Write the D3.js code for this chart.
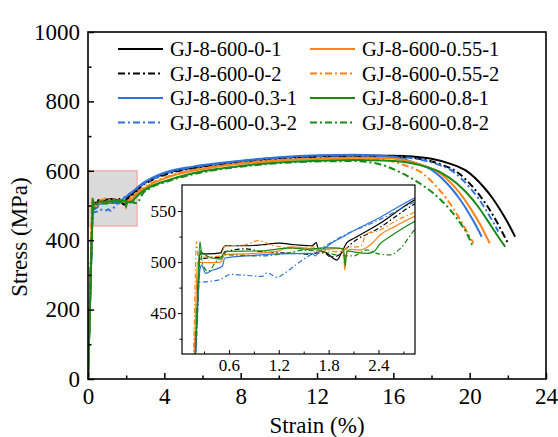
<!DOCTYPE html>
<html>
<head>
<meta charset="utf-8">
<script src="https://cdn.jsdelivr.net/npm/d3@7"></script>
<style>
  body { margin: 0; background: #fff; }
</style>
</head>
<body>
<div id="chart"></div>
<script>
// series names (legend order)
var seriesNames = ["GJ-8-600-0-1", "GJ-8-600-0-2", "GJ-8-600-0.3-1", "GJ-8-600-0.3-2",
                   "GJ-8-600-0.55-1", "GJ-8-600-0.55-2", "GJ-8-600-0.8-1", "GJ-8-600-0.8-2"];

// [strain %, stress MPa]
var gj0_1 = [[0,0],[0.22,455],[0.25,508],[0.35,508],[0.5,509],[0.53,514],[0.56,516],[0.8,516],[1.0,517],[1.2,518.5],[1.4,517],[1.6,516],[1.65,519],[1.68,512],[1.78,509],[1.85,504],[1.9,502],[1.96,510],[2.02,519],[2.1,523],[2.4,537],[2.84,561],[3.2,572],[4.2,595],[5.5,609],[7,621],[8.5,630],[10,637],[12,642],[14,644],[16,643.5],[17,641],[18,635],[19,620],[19.85,599],[20.72,554],[21.2,521],[21.55,492],[22.0,450],[22.38,410]];
var gj0_2 = [[0,0],[0.22,460],[0.25,503],[0.35,504],[0.52,505],[0.56,510],[0.8,513],[1.0,510],[1.2,509],[1.4,508.5],[1.6,507.5],[1.66,509],[1.75,509],[1.82,505],[1.9,506],[2.0,512],[2.06,517],[2.4,533],[2.84,557],[3.2,569],[4.2,592],[5.5,607],[7,619],[8.5,628],[10,635],[12,640],[14,641.5],[15.5,641],[16.5,639],[17.45,634],[18.45,619],[19.3,598],[20.17,553],[20.65,520],[21.0,492],[21.45,450],[21.83,410],[22.02,390]];
var gj03_1 = [[0,0],[0.22,450],[0.25,492],[0.27,497],[0.32,489],[0.4,492],[0.52,496],[0.55,504],[0.8,506],[1.2,508],[1.6,508.5],[1.64,506],[1.68,510],[1.74,513],[1.86,520],[1.98,525],[2.02,527],[2.4,543],[2.84,563],[3.2,575],[4.2,598],[5.5,612],[7,623],[8.5,632],[10,639],[12,644.5],[14,646],[15.25,644],[16.25,637],[17.25,621],[18.1,599],[18.97,554],[19.45,521],[19.8,492],[20.25,450],[20.63,410]];
var gj03_2 = [[0,0],[0.22,440],[0.24,480],[0.35,481],[0.5,483],[0.56,486],[0.62,488],[0.8,487],[1.0,486],[1.06,489.5],[1.18,485],[1.25,488],[1.4,497],[1.54,505],[1.74,515],[1.98,526],[2.4,541],[2.84,559],[3.2,571],[4.2,595],[5.5,610],[7,621],[8.5,630],[10,637],[12,642.5],[14,644],[15.25,643],[16.25,640],[17.25,634],[18.25,620],[19.1,599],[19.97,554],[20.45,521],[20.8,492],[21.25,450],[21.5,425]];
var gj055_1 = [[0,0],[0.2,450],[0.22,500],[0.35,499.5],[0.5,500],[0.55,507.5],[0.8,508],[1.0,509],[1.2,511],[1.34,515],[1.5,514],[1.68,512],[1.94,513.4],[1.98,508],[1.995,492],[2.01,507],[2.06,512.5],[2.18,511.8],[2.3,516.7],[2.42,526.5],[2.6,535],[2.84,545],[3.2,558],[4.2,582],[5.5,600],[7,614],[8.5,623],[10,630],[12,635],[14,637.5],[15.5,637],[16.5,631],[17.5,617],[18.35,597],[19.22,553],[19.7,520],[20.05,491],[20.5,450],[20.88,410],[21.05,391]];
var gj055_2 = [[0,0],[0.18,430],[0.21,520],[0.23,505],[0.35,505],[0.5,506],[0.55,515.5],[0.8,517],[0.95,521],[1.1,517],[1.3,514],[1.5,513],[1.6,515],[1.74,512],[1.94,510],[2.06,515],[2.18,515],[2.26,528],[2.38,530],[2.6,540],[2.84,549],[3.2,561],[4.2,584],[5.5,602],[7,615],[8.5,625],[10,631],[12,635],[13.5,636.5],[14.6,636],[15.6,631],[16.6,616],[17.45,596],[18.3,552],[18.8,519],[19.15,491],[19.6,450],[20.0,410],[20.2,392]];
var gj08_1 = [[0,0],[0.22,460],[0.25,520],[0.27,510],[0.4,504],[0.5,503],[0.55,510.5],[1.0,511],[1.34,514],[1.54,512.5],[1.74,514],[1.86,514],[1.98,513],[2.0,496],[2.02,511],[2.1,510],[2.26,508.5],[2.34,510],[2.42,518],[2.54,525],[2.84,540],[3.2,552],[4.2,573],[5.5,593],[7,607],[8.5,617],[10,624],[12,629],[14,631],[15.5,630],[16.5,626],[17.5,615],[18.5,595],[19.3,565],[19.9,533],[20.4,500],[20.9,460],[21.4,418],[21.86,381]];
var gj08_2 = [[0,0],[0.23,470],[0.26,512],[0.28,499],[0.35,491],[0.45,501],[0.55,507],[1.0,506],[1.3,509],[1.5,511.5],[1.74,510],[1.9,507],[2.1,506],[2.26,512],[2.4,508],[2.54,507],[2.66,513],[2.84,532],[3.2,548],[4.2,570],[5.5,590],[7,605],[8.5,615],[10,622],[12,627],[14,628],[15.13,621],[16.35,596],[17.2,570],[18.1,535],[18.97,488],[19.5,450],[19.85,420],[20.15,383]];

var seriesData = [gj0_1, gj0_2, gj03_1, gj03_2, gj055_1, gj055_2, gj08_1, gj08_2];

// ticks
var xTicks = [0, 4, 8, 12, 16, 20, 24];
var xMinor = [2, 6, 10, 14, 18, 22];
var yTicks = [0, 200, 400, 600, 800, 1000];
var yMinor = [100, 300, 500, 700, 900];
var insetXTicks = [0.6, 1.2, 1.8, 2.4];
var insetXMinor = [0.3, 0.9, 1.5, 2.1, 2.7];
var insetYTicks = [450, 500, 550];
var insetYMinor = [425, 475, 525];

// zoomed region marked on the main plot
var boxStrain = [0, 2.57];
var boxStress = [441, 600];

// styles
var colors = ["#000000", "#000000", "#2e74dc", "#2e74dc", "#ff8418", "#ff8418", "#178a17", "#178a17"];
var dashed = [false, true, false, true, false, true, false, true];
var fontName = "Liberation Serif";

var width = 558, height = 437;
var plot = {left: 88, right: 546, top: 32, bottom: 379};
var inset = {left: 182, right: 415, top: 185, bottom: 354};

var svg = d3.select("#chart")
  .append("svg")
  .attr("width", width)
  .attr("height", height);

var x = d3.scaleLinear().domain([0, 24]).range([plot.left, plot.right]);
var y = d3.scaleLinear().domain([0, 1000]).range([plot.bottom, plot.top]);

var ix = d3.scaleLinear().domain([0.035, 2.84]).range([inset.left, inset.right]);
var iy = d3.scaleLinear().domain([410, 575.5]).range([inset.bottom, inset.top]);

var defs = svg.append("defs");
defs.append("clipPath").attr("id", "clipMain").append("rect")
  .attr("x", plot.left).attr("y", plot.top)
  .attr("width", plot.right - plot.left).attr("height", plot.bottom - plot.top);
defs.append("clipPath").attr("id", "clipInset").append("rect")
  .attr("x", inset.left).attr("y", inset.top)
  .attr("width", inset.right - inset.left).attr("height", inset.bottom - inset.top);

// grey zoom box
svg.append("rect")
  .attr("x", x(boxStrain[0]))
  .attr("y", y(boxStress[1]))
  .attr("width", x(boxStrain[1]) - x(boxStrain[0]))
  .attr("height", y(boxStress[0]) - y(boxStress[1]))
  .style("fill", "#dadada")
  .style("stroke", "#f2a3a3")
  .style("stroke-width", 1.2);

function dashFor(i, w) {
  if (!dashed[i]) return null;
  return w > 1.5 ? "7,3,2,3" : "5,2.5,1.5,2.5";
}

// main curves
var mainLine = d3.line()
  .x(function(d) { return x(d[0]); })
  .y(function(d) { return y(d[1]); })
  .curve(d3.curveMonotoneX);

svg.append("g")
  .attr("clip-path", "url(#clipMain)")
  .selectAll("path")
  .data(seriesData)
  .enter()
  .append("path")
  .attr("d", mainLine)
  .style("fill", "none")
  .style("stroke", function(d, i) { return colors[i]; })
  .style("stroke-width", 2)
  .style("stroke-dasharray", function(d, i) { return dashFor(i, 2); });

// main axes
function cleanAxis(g) {
  g.attr("font-family", null);
  g.select(".domain").remove();
  g.selectAll("text")
    .style("font-family", fontName)
    .style("font-size", "23px")
    .style("fill", "#000");
}

svg.append("g")
  .attr("transform", "translate(0," + plot.bottom + ")")
  .call(d3.axisBottom(x).tickValues(xTicks).tickSizeInner(-6).tickSizeOuter(0).tickPadding(9).tickFormat(d3.format("d")))
  .call(cleanAxis);
svg.append("g")
  .attr("transform", "translate(0," + plot.bottom + ")")
  .call(d3.axisBottom(x).tickValues(xMinor).tickSizeInner(-3.5).tickSizeOuter(0).tickFormat(""))
  .call(cleanAxis);
svg.append("g")
  .attr("transform", "translate(" + plot.left + ",0)")
  .call(d3.axisLeft(y).tickValues(yTicks).tickSizeInner(-6).tickSizeOuter(0).tickPadding(8).tickFormat(d3.format("d")))
  .call(cleanAxis);
svg.append("g")
  .attr("transform", "translate(" + plot.left + ",0)")
  .call(d3.axisLeft(y).tickValues(yMinor).tickSizeInner(-3.5).tickSizeOuter(0).tickFormat(""))
  .call(cleanAxis);

svg.selectAll(".tick line").style("stroke-width", 1.5);

// frame
svg.append("rect")
  .attr("x", plot.left).attr("y", plot.top)
  .attr("width", plot.right - plot.left).attr("height", plot.bottom - plot.top)
  .style("fill", "none")
  .style("stroke", "#000")
  .style("stroke-width", 1.6);

// axis titles
svg.append("text")
  .attr("x", (plot.left + plot.right) / 2)
  .attr("y", 433)
  .style("text-anchor", "middle")
  .style("font-family", fontName)
  .style("font-size", "23px")
  .text("Strain (%)");

svg.append("text")
  .attr("transform", "translate(27,237)rotate(-90)")
  .style("text-anchor", "middle")
  .style("font-family", fontName)
  .style("font-size", "23px")
  .text("Stress (MPa)");

// legend
var legend = svg.append("g");
seriesNames.forEach(function(name, i) {
  var col = Math.floor(i / 4), row = i % 4;
  var lx = col === 0 ? 118 : 310;
  var ly = 49 + row * 24.5;
  legend.append("line")
    .attr("x1", lx).attr("x2", lx + 45)
    .attr("y1", ly).attr("y2", ly)
    .style("stroke", colors[i])
    .style("stroke-width", 2)
    .style("stroke-dasharray", dashFor(i, 2));
  legend.append("text")
    .attr("x", lx + 52)
    .attr("y", ly)
    .attr("dy", "0.35em")
    .style("font-family", fontName)
    .style("font-size", "20.5px")
    .text(name);
});

// inset
var ig = svg.append("g");
ig.append("rect")
  .attr("x", inset.left).attr("y", inset.top)
  .attr("width", inset.right - inset.left).attr("height", inset.bottom - inset.top)
  .style("fill", "#fff");

var insetLine = d3.line()
  .x(function(d) { return ix(d[0]); })
  .y(function(d) { return iy(d[1]); })
  .curve(d3.curveMonotoneX);

ig.append("g")
  .attr("clip-path", "url(#clipInset)")
  .selectAll("path")
  .data(seriesData)
  .enter()
  .append("path")
  .attr("d", insetLine)
  .style("fill", "none")
  .style("stroke", function(d, i) { return colors[i]; })
  .style("stroke-width", 1.2)
  .style("stroke-dasharray", function(d, i) { return dashFor(i, 1.2); });

function insetAxis(g) {
  g.attr("font-family", null);
  g.select(".domain").remove();
  g.selectAll("text")
    .style("font-family", fontName)
    .style("font-size", "17px")
    .style("fill", "#000");
  g.selectAll(".tick line").style("stroke-width", 1);
}

ig.append("g")
  .attr("transform", "translate(0," + inset.bottom + ")")
  .call(d3.axisBottom(ix).tickValues(insetXTicks).tickSizeInner(-4).tickSizeOuter(0).tickPadding(5).tickFormat(d3.format(".1f")))
  .call(insetAxis);
ig.append("g")
  .attr("transform", "translate(0," + inset.bottom + ")")
  .call(d3.axisBottom(ix).tickValues(insetXMinor).tickSizeInner(-2.5).tickSizeOuter(0).tickFormat(""))
  .call(insetAxis);
ig.append("g")
  .attr("transform", "translate(" + inset.left + ",0)")
  .call(d3.axisLeft(iy).tickValues(insetYTicks).tickSizeInner(4).tickSizeOuter(0).tickPadding(2))
  .call(insetAxis);
ig.append("g")
  .attr("transform", "translate(" + inset.left + ",0)")
  .call(d3.axisLeft(iy).tickValues(insetYMinor).tickSizeInner(2.5).tickSizeOuter(0).tickFormat(""))
  .call(insetAxis);

ig.append("rect")
  .attr("x", inset.left).attr("y", inset.top)
  .attr("width", inset.right - inset.left).attr("height", inset.bottom - inset.top)
  .style("fill", "none")
  .style("stroke", "#000")
  .style("stroke-width", 1.2);
</script>
</body>
</html>
